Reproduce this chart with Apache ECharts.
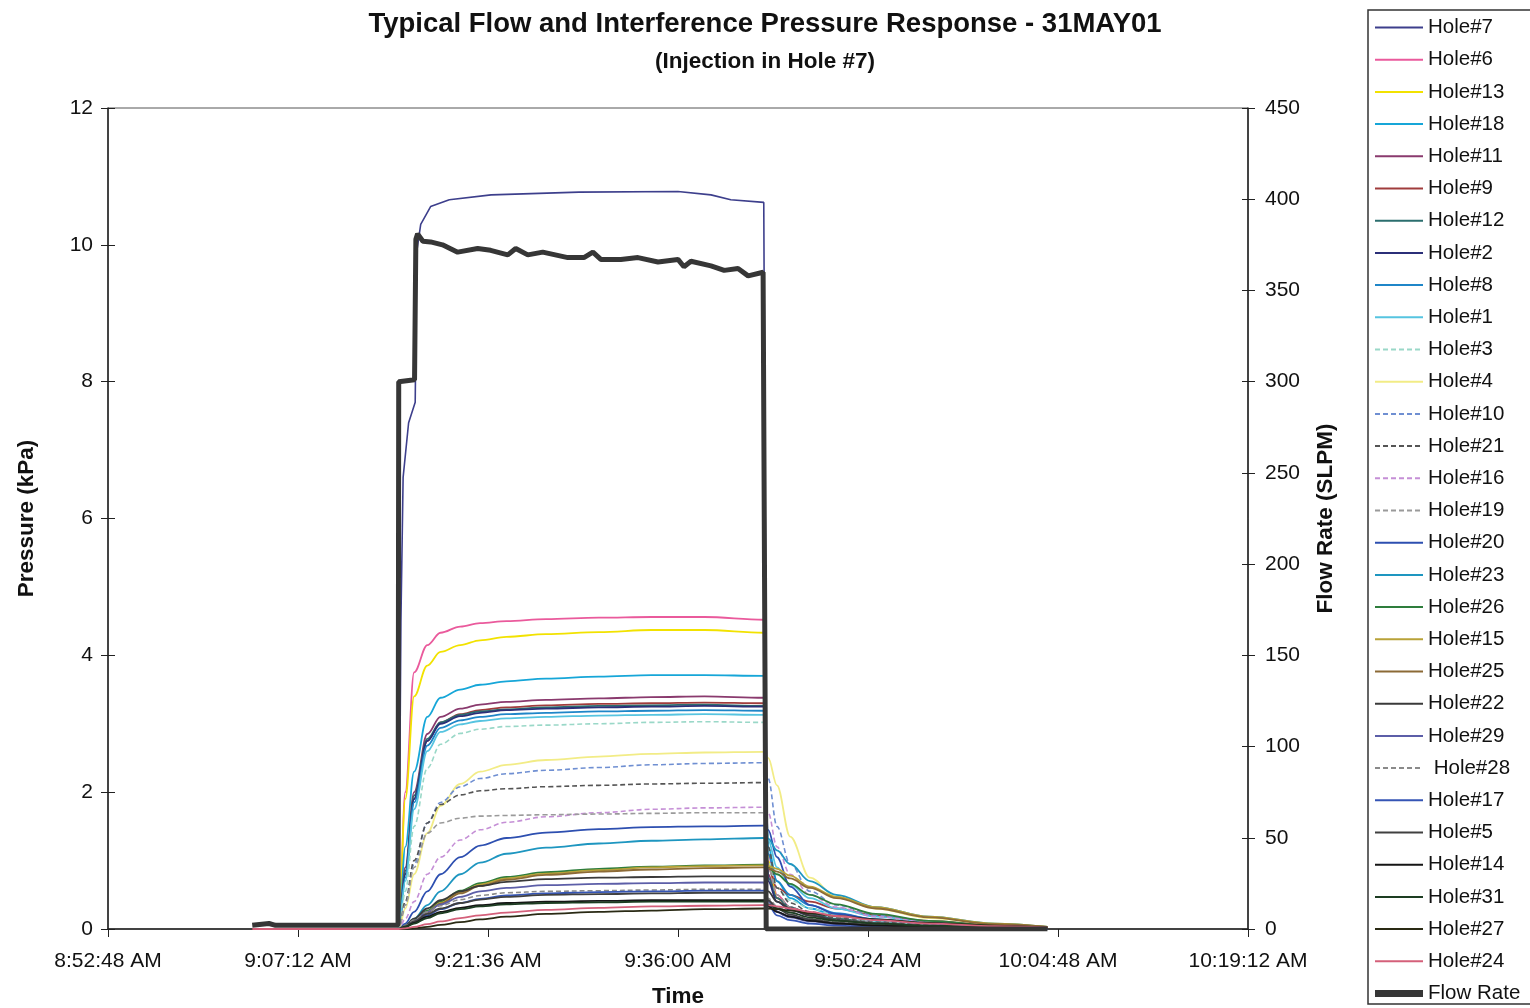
<!DOCTYPE html>
<html><head><meta charset="utf-8">
<script src="https://cdn.jsdelivr.net/npm/echarts@6/dist/echarts.min.js"></script>
<style>html,body{margin:0;padding:0;background:#fff}#c{width:1530px;height:1008px}</style>
</head><body><div id="c"></div>
<script>
// ---- time axis (seconds since midnight): 8:52:48 AM .. 10:19:12 AM, step 14:24
const xMin = '8:52:48', xMax = '10:19:12', xStep = '0:14:24';
const pressureTicks = [0, 2, 4, 6, 8, 10, 12];
const flowTicks = [0, 50, 100, 150, 200, 250, 300, 350, 400, 450];

// ---- Flow Rate (SLPM)
const flowTimes = ['9:03:44','9:05:00','9:05:30','9:14:47','9:14:50','9:16:02','9:16:08','9:16:16','9:16:40','9:17:15','9:18:09','9:19:18','9:20:49','9:21:48','9:23:06','9:23:42','9:24:37','9:25:45','9:27:39','9:28:52','9:29:33','9:30:09','9:31:40','9:32:58','9:34:29','9:36:00','9:36:27','9:36:59','9:38:30','9:39:30','9:40:33','9:41:19','9:42:27','9:42:41','10:04:00'];
const flowRate  = [2,3,2,2,300,301,378,381,377,376.6,375,371,373,372,369.5,373,369.5,371,368,368,371,367,367,368,365.6,367,363,366,363.5,361,362,358,360,0,0];

// ---- Hole#7 (injection hole, kPa)
const h7Times = ['9:03:44','9:14:50','9:15:00','9:15:10','9:15:35','9:16:05','9:16:12','9:16:30','9:17:15','9:18:40','9:21:50','9:28:30','9:36:00','9:38:30','9:40:00','9:42:30','9:42:45','9:44:00','9:48:00','9:55:00','10:04:00'];
const h7 = [0,0,4.5,6.6,7.4,7.7,9.9,10.3,10.56,10.66,10.73,10.77,10.78,10.73,10.66,10.62,0.35,0.2,0.08,0.03,0];

// ---- observation holes, shared sample times (kPa)
const holeTimes = ['9:03:44','9:14:50','9:15:20','9:16:00','9:17:00','9:18:00','9:19:30','9:21:00','9:23:00','9:26:00','9:30:00','9:34:00','9:38:00','9:42:30','9:42:50','9:43:30','9:44:30','9:46:00','9:48:00','9:51:00','9:55:00','10:00:00','10:04:00'];
const h6  = [0,0,2.0,3.75,4.15,4.33,4.42,4.47,4.5,4.53,4.55,4.56,4.56,4.52,1.1,0.5,0.32,0.21,0.14,0.09,0.05,0.02,0.01];
const h13 = [0,0,1.9,3.4,3.85,4.05,4.15,4.22,4.27,4.31,4.34,4.37,4.37,4.33,1.0,0.45,0.3,0.2,0.13,0.08,0.05,0.02,0.01];
const h18 = [0,0,1.2,2.3,3.1,3.38,3.5,3.57,3.62,3.66,3.69,3.71,3.71,3.70,1.2,0.7,0.45,0.3,0.2,0.12,0.07,0.03,0.01];
const h11 = [0,0,0.9,2.0,2.85,3.1,3.22,3.28,3.32,3.35,3.37,3.39,3.40,3.38,0.8,0.45,0.3,0.2,0.13,0.08,0.05,0.02,0.01];
const h9  = [0,0,0.8,1.9,2.75,3.02,3.14,3.2,3.24,3.27,3.29,3.30,3.31,3.30,0.9,0.6,0.5,0.4,0.3,0.2,0.12,0.05,0.02];
const h12 = [0,0,0.85,1.95,2.78,3.02,3.13,3.18,3.21,3.24,3.26,3.27,3.28,3.26,0.75,0.45,0.32,0.22,0.15,0.09,0.05,0.02,0.01];
const h2  = [0,0,0.8,1.9,2.75,3.0,3.11,3.16,3.2,3.22,3.24,3.25,3.26,3.25,0.7,0.4,0.28,0.2,0.13,0.08,0.04,0.02,0.01];
const h8  = [0,0,0.75,1.85,2.68,2.94,3.05,3.1,3.14,3.16,3.18,3.19,3.2,3.19,1.1,0.7,0.5,0.35,0.23,0.14,0.08,0.04,0.01];
const h1  = [0,0,0.7,1.75,2.6,2.88,2.99,3.04,3.08,3.1,3.12,3.13,3.14,3.13,1.3,0.9,0.65,0.45,0.3,0.18,0.1,0.04,0.02];
const h3  = [0,0,0.55,1.5,2.35,2.7,2.86,2.92,2.96,2.98,3.0,3.02,3.03,3.02,1.0,0.6,0.42,0.3,0.2,0.12,0.07,0.03,0.01];
const h4  = [0,0,0.3,0.8,1.4,1.8,2.12,2.3,2.4,2.47,2.52,2.56,2.58,2.59,2.5,2.1,1.35,0.75,0.47,0.3,0.16,0.08,0.03];
const h10 = [0,0,0.35,0.95,1.55,1.85,2.08,2.2,2.27,2.32,2.36,2.4,2.42,2.43,2.2,1.5,0.95,0.55,0.35,0.2,0.11,0.05,0.02];
const h21 = [0,0,0.4,1.0,1.55,1.82,1.96,2.02,2.05,2.08,2.1,2.12,2.13,2.14,1.2,0.6,0.38,0.25,0.16,0.1,0.06,0.03,0.01];
const h16 = [0,0,0.15,0.4,0.8,1.05,1.3,1.45,1.56,1.64,1.7,1.75,1.77,1.78,1.7,1.2,0.8,0.5,0.32,0.18,0.1,0.05,0.02];
const h19 = [0,0,0.35,0.9,1.4,1.55,1.62,1.65,1.66,1.67,1.68,1.69,1.70,1.70,0.9,0.5,0.32,0.2,0.13,0.08,0.05,0.02,0.01];
const h20 = [0,0,0.08,0.25,0.55,0.8,1.05,1.22,1.33,1.41,1.46,1.49,1.5,1.51,1.45,1.05,0.62,0.35,0.22,0.14,0.08,0.04,0.01];
const h23 = [0,0,0.05,0.15,0.35,0.55,0.8,0.97,1.1,1.19,1.25,1.29,1.31,1.33,1.32,1.15,0.95,0.7,0.5,0.32,0.18,0.08,0.03];
const h26 = [0,0,0.05,0.13,0.27,0.4,0.56,0.67,0.76,0.83,0.88,0.91,0.93,0.94,0.9,0.8,0.66,0.5,0.36,0.22,0.12,0.05,0.02];
const h15 = [0,0,0.04,0.12,0.25,0.38,0.54,0.65,0.74,0.81,0.86,0.9,0.92,0.93,0.92,0.88,0.78,0.62,0.47,0.32,0.18,0.08,0.03];
const h25 = [0,0,0.04,0.11,0.24,0.37,0.52,0.63,0.72,0.79,0.84,0.87,0.89,0.9,0.89,0.84,0.74,0.6,0.45,0.3,0.17,0.07,0.03];
const h22 = [0,0,0.05,0.15,0.3,0.42,0.55,0.63,0.69,0.73,0.75,0.76,0.77,0.77,0.55,0.4,0.3,0.2,0.13,0.08,0.05,0.02,0.01];
const h29 = [0,0,0.04,0.12,0.25,0.36,0.47,0.55,0.6,0.64,0.66,0.67,0.68,0.68,0.4,0.25,0.17,0.11,0.07,0.05,0.03,0.01,0];
const h28 = [0,0,0.05,0.13,0.25,0.34,0.43,0.49,0.53,0.55,0.56,0.57,0.58,0.58,0.45,0.33,0.24,0.16,0.1,0.06,0.04,0.02,0.01];
const h17 = [0,0,0.03,0.1,0.2,0.29,0.38,0.44,0.49,0.52,0.54,0.55,0.56,0.56,0.35,0.2,0.13,0.08,0.05,0.03,0.02,0.01,0];
const h5  = [0,0,0.04,0.11,0.22,0.3,0.38,0.43,0.47,0.5,0.51,0.52,0.53,0.53,0.42,0.3,0.21,0.14,0.09,0.06,0.04,0.02,0.01];
const h14 = [0,0,0.03,0.09,0.18,0.25,0.31,0.35,0.38,0.4,0.41,0.42,0.42,0.42,0.33,0.25,0.18,0.12,0.08,0.05,0.03,0.02,0.01];
const h31 = [0,0,0.03,0.08,0.16,0.23,0.29,0.33,0.36,0.38,0.39,0.4,0.4,0.4,0.36,0.3,0.24,0.17,0.12,0.08,0.05,0.02,0.01];
const h27 = [0,0,0,0.01,0.03,0.06,0.1,0.14,0.18,0.22,0.25,0.27,0.29,0.30,0.3,0.29,0.27,0.23,0.19,0.14,0.09,0.05,0.02];
const h24 = [0,0,0.01,0.03,0.07,0.11,0.16,0.2,0.24,0.28,0.31,0.33,0.34,0.35,0.35,0.33,0.3,0.25,0.19,0.13,0.08,0.04,0.02];

// ---- series styling (name, values, colour, dashed)
const holeSeries = [
  ['Hole#6', h6, '#ea5a9c', false],
  ['Hole#13', h13, '#f2e200', false],
  ['Hole#18', h18, '#16a6d8', false],
  ['Hole#11', h11, '#8a3a6e', false],
  ['Hole#9', h9, '#a03c3c', false],
  ['Hole#12', h12, '#2b6e6e', false],
  ['Hole#2', h2, '#2b2f78', false],
  ['Hole#8', h8, '#1f86c8', false],
  ['Hole#1', h1, '#56c4e0', false],
  ['Hole#3', h3, '#9ad8c8', true],
  ['Hole#4', h4, '#f2ec86', false],
  ['Hole#10', h10, '#6f8fd2', true],
  ['Hole#21', h21, '#555555', true],
  ['Hole#16', h16, '#c58fd6', true],
  ['Hole#19', h19, '#9a9a9a', true],
  ['Hole#20', h20, '#2d4fb0', false],
  ['Hole#23', h23, '#1e96c0', false],
  ['Hole#26', h26, '#2e7d3c', false],
  ['Hole#15', h15, '#b8a238', false],
  ['Hole#25', h25, '#8c6a36', false],
  ['Hole#22', h22, '#3a3a3a', false],
  ['Hole#29', h29, '#5c5ea8', false],
  [' Hole#28', h28, '#8a8a8a', true],
  ['Hole#17', h17, '#3555b5', false],
  ['Hole#5', h5, '#404040', false],
  ['Hole#14', h14, '#151515', false],
  ['Hole#31', h31, '#1d3d22', false],
  ['Hole#27', h27, '#2a2a14', false],
  ['Hole#24', h24, '#d4607a', false]
];

function toSec(s){ const p = s.split(':').map(Number); return p[0]*3600 + p[1]*60 + p[2]; }
function pad(n){ return (n < 10 ? '0' : '') + n; }
function fmtTime(v){
  v = Math.round(v);
  const h = Math.floor(v/3600), m = Math.floor((v%3600)/60), s = v%60;
  const ap = h >= 12 ? 'PM' : 'AM';
  return ((h%12)||12) + ':' + pad(m) + ':' + pad(s) + ' ' + ap;
}
function pairs(times, vals){ return times.map((t,i)=>[toSec(t), vals[i]]); }

// legend line-sample icons (48 x 14 box)
const ICON_SOLID = 'path://M0,0M0,6H48V8H0ZM48,14';
const ICON_THICK = 'path://M0,0M0,3.5H48V10.5H0ZM48,14';
let dashPath = 'path://M0,0';
for (let x = 0; x < 48; x += 8) dashPath += 'M' + x + ',6H' + Math.min(x+5,48) + 'V8H' + x + 'Z';
dashPath += 'M48,14';
const ICON_DASH = dashPath;

const FONT = 'Liberation Sans, Arial, sans-serif';
const series = [];
const legendData = [];
series.push({ name:'Hole#7', type:'line', yAxisIndex:0, symbol:'none', data:pairs(h7Times,h7),
  lineStyle:{color:'#3d3f8c', width:1.6}, itemStyle:{color:'#3d3f8c'}, animation:false });
legendData.push({name:'Hole#7', icon:ICON_SOLID});
holeSeries.forEach(([n, v, c, d]) => {
  series.push({ name:n, type:'line', yAxisIndex:0, symbol:'none', data:pairs(holeTimes, v),
    smooth:0.35, smoothMonotone:'x',
    lineStyle:{color:c, width:d?1.6:1.8, type:d?[5,3]:'solid'}, itemStyle:{color:c}, animation:false });
  legendData.push({name:n, icon: d ? ICON_DASH : ICON_SOLID});
});
series.push({ name:'Flow Rate', type:'line', yAxisIndex:1, symbol:'none', data:pairs(flowTimes, flowRate),
  lineStyle:{color:'#363636', width:5}, itemStyle:{color:'#363636'}, animation:false });
legendData.push({name:'Flow Rate', icon:ICON_THICK});

const pMax = pressureTicks[pressureTicks.length-1], pStep = pressureTicks[1]-pressureTicks[0];
const fMax = flowTicks[flowTicks.length-1], fStep = flowTicks[1]-flowTicks[0];
const axisCol = '#222';

const chart = echarts.init(document.getElementById('c'), null, {renderer:'canvas'});
chart.setOption({
  backgroundColor:'#fff',
  animation:false,
  title:[
    {text:'Typical Flow and Interference Pressure Response - 31MAY01', left:'center', top:10, padding:0,
     textStyle:{fontFamily:FONT, fontWeight:'bold', fontSize:27.5, color:'#111'}},
    {text:'(Injection in Hole #7)', left:'center', top:50, padding:0,
     textStyle:{fontFamily:FONT, fontWeight:'bold', fontSize:22.5, color:'#111'}}
  ],
  legend:{
    orient:'vertical', left:1368, top:10, height:1100, padding:[7,40,0,7],
    borderColor:'#333', borderWidth:1.5, itemWidth:48, itemHeight:14, itemGap:11.2,
    itemStyle:{borderWidth:0},
    textStyle:{fontFamily:FONT, fontSize:20.5, color:'#111'},
    data: legendData
  },
  grid:{left:108, right:282, top:108, bottom:79, show:true, borderColor:'#555', borderWidth:1,
        backgroundColor:'transparent', outerBoundsMode:'none', containLabel:false},
  xAxis:{
    type:'value', min:toSec(xMin), max:toSec(xMax), interval:toSec(xStep),
    name:'Time', nameLocation:'middle', nameGap:56,
    nameTextStyle:{fontFamily:FONT, fontWeight:'bold', fontSize:22.5, color:'#111'},
    axisLine:{lineStyle:{color:axisCol, width:1.5}},
    axisTick:{length:8, lineStyle:{color:axisCol}},
    axisLabel:{formatter:fmtTime, margin:22, fontFamily:FONT, fontSize:21, color:'#111', showMinLabel:true, showMaxLabel:true},
    splitLine:{show:false}
  },
  yAxis:[
    {type:'value', position:'left', min:0, max:pMax, interval:pStep,
     name:'Pressure (kPa)', nameLocation:'middle', nameGap:70,
     nameTextStyle:{fontFamily:FONT, fontWeight:'bold', fontSize:22.5, color:'#111'},
     axisLine:{show:true, lineStyle:{color:axisCol, width:1.5}},
     axisTick:{show:true, length:7, lineStyle:{color:axisCol}},
     axisLabel:{margin:15, fontFamily:FONT, fontSize:21, color:'#111'},
     splitLine:{show:false}},
    {type:'value', position:'right', min:0, max:fMax, interval:fStep,
     name:'Flow Rate (SLPM)', nameLocation:'middle', nameGap:66,
     nameTextStyle:{fontFamily:FONT, fontWeight:'bold', fontSize:22.5, color:'#111'},
     axisLine:{show:true, lineStyle:{color:axisCol, width:1.5}},
     axisTick:{show:true, length:7, lineStyle:{color:axisCol}},
     axisLabel:{margin:17, fontFamily:FONT, fontSize:21, color:'#111'},
     splitLine:{show:false}},
    {type:'value', position:'left', min:0, max:pMax, interval:pStep,
     axisLine:{show:false}, axisLabel:{show:false}, splitLine:{show:false},
     axisTick:{show:true, inside:true, length:7, lineStyle:{color:axisCol}}},
    {type:'value', position:'right', min:0, max:fMax, interval:fStep,
     axisLine:{show:false}, axisLabel:{show:false}, splitLine:{show:false},
     axisTick:{show:true, inside:true, length:6, lineStyle:{color:axisCol}}}
  ],
  series: series
});
</script></body></html>
